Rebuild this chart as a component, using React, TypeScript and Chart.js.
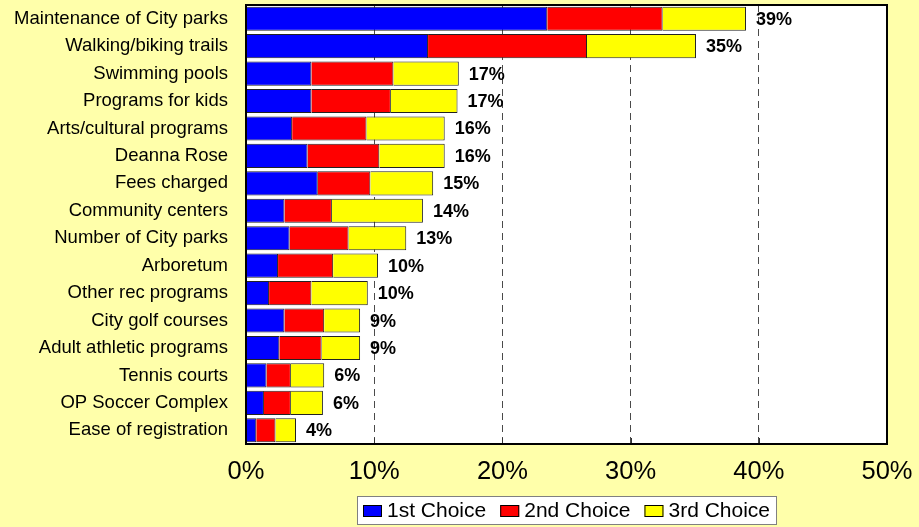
import React, { useEffect, useRef } from 'react';
import { Chart, registerables } from 'chart.js';

Chart.register(...registerables);

const categories = [
  'Maintenance of City parks',
  'Walking/biking trails',
  'Swimming pools',
  'Programs for kids',
  'Arts/cultural programs',
  'Deanna Rose',
  'Fees charged',
  'Community centers',
  'Number of City parks',
  'Arboretum',
  'Other rec programs',
  'City golf courses',
  'Adult athletic programs',
  'Tennis courts',
  'OP Soccer Complex',
  'Ease of registration',
];

const firstChoice = [23.5, 14.2, 5.1, 5.1, 3.6, 4.8, 5.6, 3.0, 3.4, 2.5, 1.8, 3.0, 2.6, 1.6, 1.4, 0.8];
const secondChoice = [9.0, 12.4, 6.4, 6.2, 5.8, 5.6, 4.1, 3.7, 4.6, 4.3, 3.3, 3.1, 3.3, 1.9, 2.1, 1.5];
const thirdChoice = [6.5, 8.5, 5.1, 5.2, 6.1, 5.1, 4.9, 7.1, 4.5, 3.5, 4.4, 2.8, 3.0, 2.6, 2.5, 1.6];
const totalLabels = [39, 35, 17, 17, 16, 16, 15, 14, 13, 10, 10, 9, 9, 6, 6, 4];

const seriesNames = ['1st Choice', '2nd Choice', '3rd Choice'];
const seriesColors = ['#0000FF', '#FF0000', '#FFFF00'];
const xMin = 0;
const xMax = 50;
const xStep = 10;

const FONT = "'Liberation Sans', Arial, sans-serif";

const zeroPad = (s: any) => {
  s.paddingTop = 0;
  s.paddingBottom = 0;
  s.paddingLeft = 0;
  s.paddingRight = 0;
};

export default function App() {
  const ref = useRef<HTMLCanvasElement>(null);

  useEffect(() => {
    document.body.style.margin = '0';
    const canvas = ref.current;
    if (!canvas) return;

    const deco = {
      id: 'deco',
      beforeDraw(chart: any) {
        const { ctx, chartArea: a } = chart;
        ctx.save();
        ctx.fillStyle = '#FFFFFF';
        ctx.fillRect(a.left, a.top, a.right - a.left, a.bottom - a.top);
        ctx.restore();
      },
      afterDraw(chart: any) {
        const { ctx, chartArea: a } = chart;
        const xs = chart.scales.x;
        const ys = chart.scales.y;
        ctx.save();
        // inner tick marks at the bottom
        ctx.strokeStyle = '#333';
        ctx.lineWidth = 1;
        for (let v = xMin + xStep; v < xMax; v += xStep) {
          const px = Math.round(xs.getPixelForValue(v)) + 0.5;
          ctx.beginPath();
          ctx.moveTo(px, a.bottom);
          ctx.lineTo(px, a.bottom - 6);
          ctx.stroke();
        }
        // plot border
        ctx.strokeStyle = '#000';
        ctx.lineWidth = 2;
        ctx.strokeRect(a.left, a.top, a.right - a.left, a.bottom - a.top);

        // total labels
        ctx.fillStyle = '#000';
        ctx.font = `bold 18px ${FONT}`;
        ctx.textAlign = 'left';
        ctx.textBaseline = 'middle';
        categories.forEach((_, i) => {
          const sum = firstChoice[i] + secondChoice[i] + thirdChoice[i];
          const x = xs.getPixelForValue(sum) + 10;
          const y = ys.getPixelForValue(i);
          ctx.fillText(`${totalLabels[i]}%`, x, y + 1);
        });

        // legend
        ctx.font = `21px ${FONT}`;
        const sw = 19, sh = 12, gapText = 5, gapItem = 14, pad = 6;
        const widths = seriesNames.map((n) => ctx.measureText(n).width);
        let total = pad * 2 + gapItem * (seriesNames.length - 1);
        widths.forEach((w) => (total += sw + gapText + w));
        const cx = (a.left + a.right) / 2;
        const left = Math.round(cx - total / 2);
        const top = chart.height - 31;
        const h = 28;
        ctx.fillStyle = '#FFFFFF';
        ctx.fillRect(left, top, total, h);
        ctx.strokeStyle = '#808080';
        ctx.lineWidth = 1;
        ctx.strokeRect(left + 0.5, top + 0.5, total, h);
        let x = left + pad;
        const cy = top + h / 2 + 1;
        seriesNames.forEach((n, i) => {
          ctx.fillStyle = seriesColors[i];
          ctx.fillRect(x, Math.round(cy - sh / 2), sw, sh);
          ctx.strokeStyle = '#000';
          ctx.strokeRect(x + 0.5, Math.round(cy - sh / 2) + 0.5, sw - 1, sh - 1);
          x += sw + gapText;
          ctx.fillStyle = '#000';
          ctx.textBaseline = 'middle';
          ctx.fillText(n, x, cy);
          x += widths[i] + gapItem;
        });
        ctx.restore();
      },
    };

    const chart = new Chart(canvas, {
      type: 'bar',
      data: {
        labels: categories,
        datasets: [firstChoice, secondChoice, thirdChoice].map((d, i) => ({
          label: seriesNames[i],
          data: d,
          backgroundColor: seriesColors[i],
          borderColor: '#222',
          borderWidth: 1,
          barPercentage: 0.88,
          categoryPercentage: 1,
        })),
      },
      options: {
        indexAxis: 'y',
        animation: false,
        responsive: false,
        maintainAspectRatio: false,
        layout: { padding: { left: 0, top: 5, right: 32, bottom: 35 } },
        plugins: {
          legend: { display: false },
          tooltip: { enabled: false },
        },
        scales: {
          x: {
            stacked: true,
            min: xMin,
            max: xMax,
            afterFit: (s: any) => {
              s.height = 48;
              zeroPad(s);
            },
            ticks: {
              stepSize: xStep,
              color: '#000',
              padding: 13,
              maxRotation: 0,
              font: { family: FONT, size: 25.5 },
              callback: (v: any) => `${v}%`,
            },
            grid: {
              drawTicks: false,
              color: (c: any) =>
                c.tick && (c.tick.value === xMin || c.tick.value === xMax) ? 'rgba(0,0,0,0)' : '#4a4a4a',
              lineWidth: 1,
            },
            border: { display: false, dash: [7, 5] },
          },
          y: {
            stacked: true,
            afterFit: (s: any) => {
              s.width = 246;
              zeroPad(s);
            },
            ticks: {
              autoSkip: false,
              color: '#000',
              padding: 18,
              font: { family: FONT, size: 18.5 },
            },
            grid: { display: false, drawTicks: false },
            border: { display: false },
          },
        },
      },
      plugins: [deco],
    });
    return () => chart.destroy();
  }, []);

  return (
    <div style={{ width: 919, height: 527, background: '#FFFFAA' }}>
      <canvas ref={ref} width={919} height={527} style={{ display: 'block' }} />
    </div>
  );
}
